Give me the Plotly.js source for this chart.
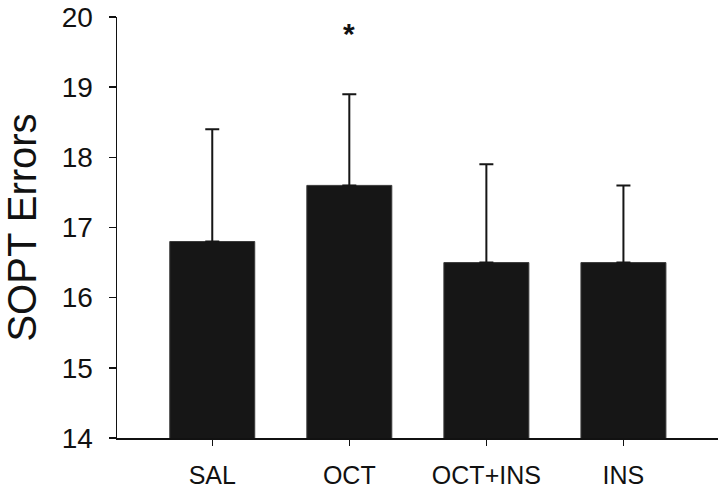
<!DOCTYPE html>
<html>
<head>
<meta charset="utf-8">
<script src="https://cdn.plot.ly/plotly-3.0.1.min.js"></script>
<style>
  html, body { margin: 0; padding: 0; background: #fff; }
  #chart { width: 723px; height: 493px; }
</style>
</head>
<body>
<div id="chart"></div>
<script>
// group names and mean SOPT errors with upper error bars
const groups = ['SAL', 'OCT', 'OCT+INS', 'INS'];
const meanErrors = [16.8, 17.6, 16.5, 16.5];
const errorUp = [1.6, 1.3, 1.4, 1.1];
const yTicks = [14, 15, 16, 17, 18, 19, 20];
const starGroup = 'OCT';
const starY = 19.76;

const trace = {
    x: groups,
    y: meanErrors,
    type: 'bar',
    width: 0.62,
    marker: { color: '#161616', line: { color: '#3a3a3a', width: 1 } },
    error_y: {
        type: 'data',
        symmetric: false,
        array: errorUp,
        arrayminus: [0, 0, 0, 0],
        color: '#161616',
        thickness: 2,
        width: 7
    },
    hoverinfo: 'none'
};

const font = 'Liberation Sans, Arial, sans-serif';

const layout = {
    width: 723,
    height: 493,
    margin: { l: 117, r: 5, t: 17, b: 55 },
    paper_bgcolor: '#fff',
    plot_bgcolor: '#fff',
    showlegend: false,
    font: { family: font, color: '#111' },
    xaxis: {
        range: [-0.695, 3.69],
        showline: true,
        linecolor: '#111',
        linewidth: 1.5,
        ticks: 'outside',
        ticklen: 6,
        tickwidth: 1.5,
        tickcolor: '#111',
        tickfont: { size: 25, family: font, color: '#111' },
        ticklabelstandoff: 8,
        showgrid: false,
        zeroline: false,
        fixedrange: true
    },
    yaxis: {
        range: [14, 20],
        tickvals: yTicks,
        showline: true,
        linecolor: '#111',
        linewidth: 1.5,
        ticks: 'outside',
        ticklen: 7,
        tickwidth: 1.5,
        tickcolor: '#111',
        tickfont: { size: 28, family: font, color: '#111' },
        ticklabelstandoff: 10,
        showgrid: false,
        zeroline: false,
        fixedrange: true,
        title: { text: 'SOPT Errors', font: { size: 40, family: font, color: '#111' }, standoff: 12 }
    },
    annotations: [{
        x: starGroup,
        y: starY,
        text: '<b>*</b>',
        showarrow: false,
        font: { size: 30, family: font, color: '#111' }
    }]
};

Plotly.newPlot('chart', [trace], layout, { staticPlot: true });
</script>
</body>
</html>
